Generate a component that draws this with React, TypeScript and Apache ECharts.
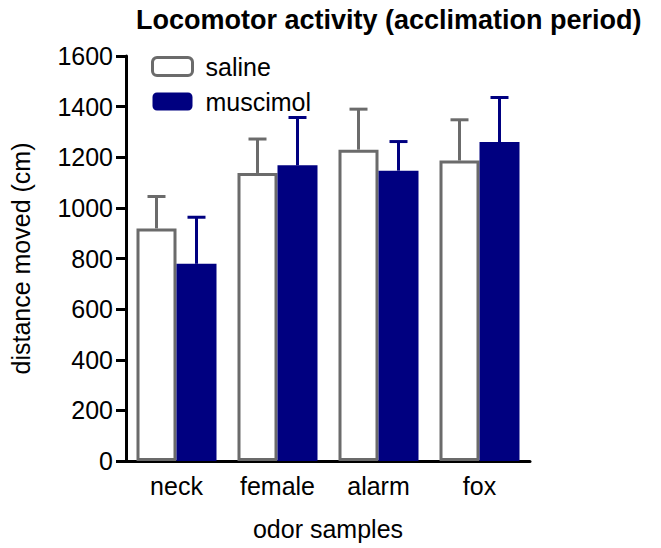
import React, { useEffect, useRef } from "react";
import * as echarts from "echarts";

const categories = ["neck", "female", "alarm", "fox"];
const salineMean = [919, 1138, 1230, 1187];
const salineErr = [126, 134, 160, 161];
const muscimolMean = [779, 1168, 1147, 1260];
const muscimolErr = [184, 189, 115, 176];
const yTicks = { min: 0, max: 1600, interval: 200 };

const FONT = "Liberation Sans, Arial, sans-serif";
const GRAY = "#6b6b6b";
const NAVY = "#000080";
const BAR_W = 40;

function errSeries(name: string, means: number[], errs: number[], color: string, offset: number) {
  return {
    name,
    type: "custom",
    silent: true,
    z: 5,
    data: means.map((m, i) => [i, m, errs[i]]),
    renderItem: (params: any, api: any) => {
      const i = api.value(0);
      const m = api.value(1);
      const e = api.value(2);
      const p0 = api.coord([i, m]);
      const p1 = api.coord([i, m + e]);
      const x = p0[0] + offset;
      const style = { stroke: color, lineWidth: 3 };
      return {
        type: "group",
        children: [
          { type: "line", shape: { x1: x, y1: p0[1], x2: x, y2: p1[1] }, style },
          { type: "line", shape: { x1: x - 9, y1: p1[1], x2: x + 9, y2: p1[1] }, style },
        ],
      };
    },
  };
}

export default function App() {
  const ref = useRef<HTMLDivElement>(null);
  useEffect(() => {
    if (!ref.current) return;
    const chart = echarts.init(ref.current, null, { renderer: "svg" });
    chart.setOption({
      animation: false,
      backgroundColor: "#fff",
      textStyle: { fontFamily: FONT, color: "#000" },
      title: {
        text: "Locomotor activity (acclimation period)",
        left: 131,
        top: 1,
        textStyle: { fontFamily: FONT, fontSize: 27, fontWeight: "bold", color: "#000" },
      },
      legend: {
        orient: "vertical",
        left: 146,
        top: 49,
        itemWidth: 40,
        itemHeight: 18,
        itemGap: 10,
        data: [
          { name: "saline", itemStyle: { color: "#fff", borderColor: GRAY, borderWidth: 3 } },
          { name: "muscimol", itemStyle: { color: NAVY } },
        ],
        textStyle: { fontFamily: FONT, fontSize: 25, color: "#000", padding: [0, 0, 0, 8] },
      },
      grid: { left: 126, right: 131, top: 56, bottom: 87 },
      xAxis: {
        type: "category",
        data: categories,
        name: "odor samples",
        nameLocation: "middle",
        nameGap: 55,
        nameTextStyle: { fontFamily: FONT, fontSize: 25, color: "#000" },
        axisLine: { lineStyle: { color: "#000", width: 3 } },
        axisTick: { alignWithLabel: true, length: 9, lineStyle: { color: "#000", width: 3 } },
        axisLabel: { fontFamily: FONT, fontSize: 25, color: "#000", margin: 12 },
      },
      yAxis: {
        type: "value",
        min: yTicks.min,
        max: yTicks.max,
        interval: yTicks.interval,
        name: "distance moved (cm)",
        nameLocation: "middle",
        nameGap: 93,
        nameTextStyle: { fontFamily: FONT, fontSize: 25, color: "#000" },
        axisLine: { show: true, lineStyle: { color: "#000", width: 3 } },
        axisTick: { show: true, length: 10, lineStyle: { color: "#000", width: 3 } },
        axisLabel: {
          fontFamily: FONT,
          fontSize: 25,
          color: "#000",
          margin: 13,
          formatter: (v: number) => String(v),
        },
        splitLine: { show: false },
      },
      series: [
        {
          name: "saline",
          type: "bar",
          barWidth: BAR_W,
          barGap: "0%",
          data: salineMean,
          itemStyle: { color: "#fff", borderColor: GRAY, borderWidth: 3 },
        },
        {
          name: "muscimol",
          type: "bar",
          barWidth: BAR_W,
          barGap: "0%",
          data: muscimolMean,
          itemStyle: { color: NAVY },
        },
        errSeries("saline-err", salineMean, salineErr, GRAY, -BAR_W / 2),
        errSeries("muscimol-err", muscimolMean, muscimolErr, NAVY, BAR_W / 2),
      ],
    });
    return () => chart.dispose();
  }, []);
  return <div ref={ref} style={{ width: 661, height: 548, position: "absolute", left: 0, top: 0 }} />;
}
